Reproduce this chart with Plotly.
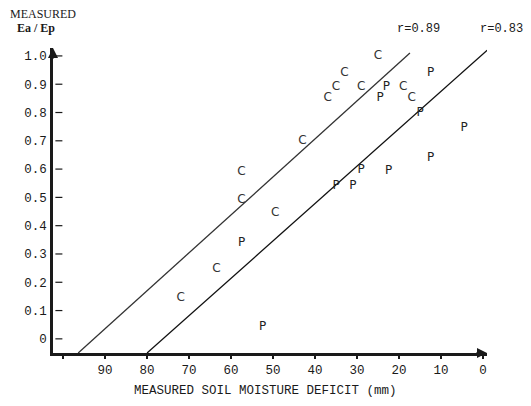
import plotly.graph_objects as go

# Data
c_x = [25, 33, 35, 29, 37, 19, 17, 43, 57.5, 57.5, 49.5, 63.5, 72]
c_y = [1.0, 0.94, 0.89, 0.89, 0.85, 0.89, 0.85, 0.70, 0.59, 0.49, 0.445, 0.247, 0.145]
p_x = [12.5, 23, 24.5, 15, 4.5, 12.5, 22.5, 29, 31, 35, 57.5, 52.5]
p_y = [0.94, 0.89, 0.85, 0.80, 0.745, 0.64, 0.595, 0.597, 0.54, 0.54, 0.34, 0.042]

line_c_x = [96.4, 17.4]
line_c_y = [-0.05, 1.01]
line_p_x = [80.0, -1.0]
line_p_y = [-0.05, 1.02]

x_ticks = [100, 90, 80, 70, 60, 50, 40, 30, 20, 10, 0]
x_tick_text = ["", "90", "80", "70", "60", "50", "40", "30", "20", "10", "0"]
y_ticks = [0, 0.1, 0.2, 0.3, 0.4, 0.5, 0.6, 0.7, 0.8, 0.9, 1.0]
y_tick_text = ["0", "0.1", "0.2", "0.3", "0.4", "0.5", "0.6", "0.7", "0.8", "0.9", "1.0"]

r_labels = ["r=0.89", "r=0.83"]

MONO = "Liberation Mono"
INK = "#1a1a1a"

fig = go.Figure()

fig.add_trace(go.Scatter(x=line_c_x, y=line_c_y, mode="lines",
                         line=dict(color="#333333", width=1.3), hoverinfo="skip"))
fig.add_trace(go.Scatter(x=line_p_x, y=line_p_y, mode="lines",
                         line=dict(color="#111111", width=1.3), hoverinfo="skip"))

fig.add_trace(go.Scatter(x=c_x, y=c_y, mode="text", text=["C"] * len(c_x),
                         textposition="middle center",
                         textfont=dict(family="DejaVu Sans", size=12, color="#333333")))
fig.add_trace(go.Scatter(x=p_x, y=p_y, mode="text", text=["P"] * len(p_x),
                         textposition="middle center",
                         textfont=dict(family="DejaVu Sans", size=12, color="#222222")))

# small dashes to the right of the y axis at each tick
fig.add_trace(go.Scatter(x=[101] * len(y_ticks), y=y_ticks, mode="markers",
                         marker=dict(symbol="line-ew", size=5,
                                     line=dict(color=INK, width=1.2)),
                         hoverinfo="skip"))

fig.update_layout(
    width=515, height=390,
    margin=dict(l=45, r=36, t=40, b=45),
    paper_bgcolor="white", plot_bgcolor="white",
    showlegend=False,
    font=dict(family=MONO, size=12.5, color=INK),
    xaxis=dict(range=[102.4, -0.95], tickvals=x_ticks, ticktext=x_tick_text,
               automargin=False,
               showgrid=False, zeroline=False, showline=True, linewidth=2.5,
               linecolor=INK, ticks="outside", ticklen=3, tickwidth=1.5,
               tickcolor=INK, tickfont=dict(family=MONO, size=12.5, color=INK)),
    yaxis=dict(range=[-0.05, 1.028], tickvals=y_ticks, ticktext=y_tick_text,
               automargin=False,
               showgrid=False, zeroline=False, showline=True, linewidth=2.5,
               linecolor=INK, ticks="", ticklabelstandoff=1,
               tickfont=dict(family=MONO, size=12.5, color=INK)),
)

# x-axis title
fig.add_annotation(xref="paper", yref="paper", x=0.49, y=-0.126, xanchor="center",
                   yanchor="middle", text="MEASURED SOIL MOISTURE DEFICIT (mm)",
                   showarrow=False, font=dict(family=MONO, size=12.5, color=INK))

# y-axis title (top-left)
fig.add_annotation(xref="paper", yref="paper", x=-0.1037, y=1.111, xanchor="left",
                   yanchor="middle", text="MEASURED", showarrow=False,
                   font=dict(family="Liberation Serif", size=12, color=INK))
fig.add_annotation(xref="paper", yref="paper", x=-0.0876, y=1.066, xanchor="left",
                   yanchor="middle", text="<b>Ea / Ep</b>", showarrow=False,
                   font=dict(family="Liberation Serif", size=12, color=INK))

# regression labels
fig.add_annotation(xref="paper", yref="paper", x=0.842, y=1.062, text=r_labels[0],
                   showarrow=False, xanchor="center", yanchor="middle",
                   font=dict(family=MONO, size=12, color=INK))
fig.add_annotation(xref="paper", yref="paper", x=1.033, y=1.062, text=r_labels[1],
                   showarrow=False, xanchor="center", yanchor="middle",
                   font=dict(family=MONO, size=12, color=INK))

# arrowheads on axes
fig.add_annotation(xref="paper", yref="paper", x=1.0, y=0, ax=-12, ay=0,
                   showarrow=True, arrowhead=2, arrowsize=1, arrowwidth=2,
                   arrowcolor=INK, text="")
fig.add_annotation(xref="paper", yref="paper", x=0, y=1.0, ax=0, ay=12,
                   showarrow=True, arrowhead=2, arrowsize=1, arrowwidth=2,
                   arrowcolor=INK, text="")

fig.write_html("out.html")
